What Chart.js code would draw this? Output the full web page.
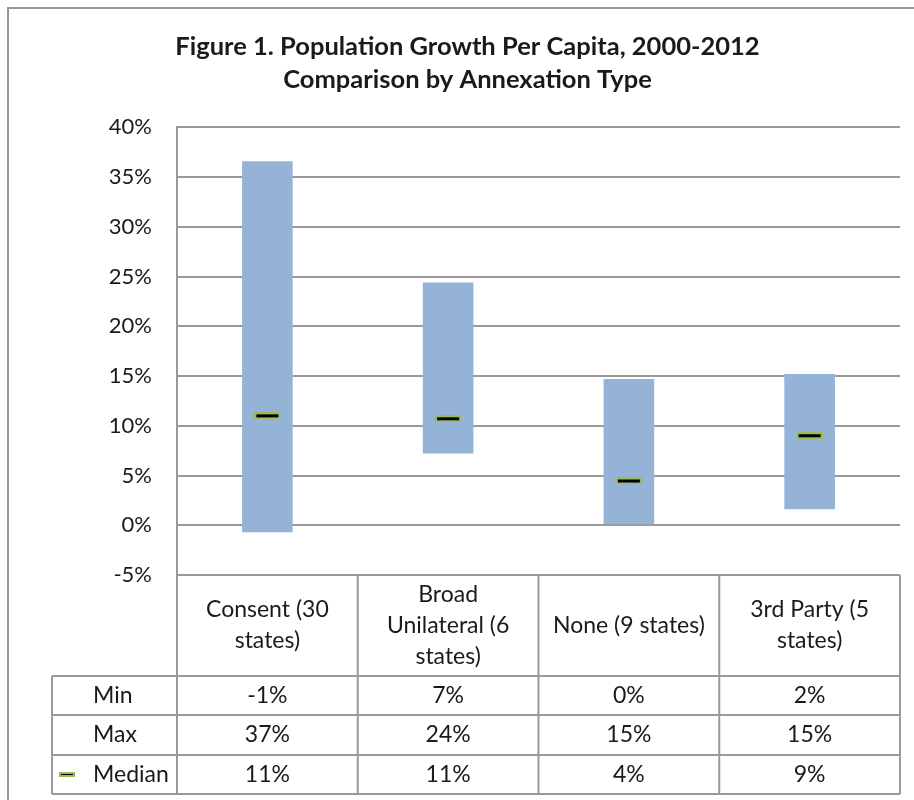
<!DOCTYPE html>
<html>
<head>
<meta charset="utf-8">
<script src="https://cdn.jsdelivr.net/npm/chart.js@4/dist/chart.umd.min.js"></script>
<style>
  html, body { margin: 0; padding: 0; background: #fff; }
</style>
</head>
<body>
<canvas id="growthChart" width="914" height="800"></canvas>
<script>
// chart data
const titleLines = ['Figure 1. Population Growth Per Capita, 2000-2012', 'Comparison by Annexation Type'];
const categories = [['Consent (30', 'states)'], ['Broad', 'Unilateral (6', 'states)'], ['None (9 states)'], ['3rd Party (5', 'states)']];
const minValues = [-0.7, 7.2, 0.0, 1.6];
const maxValues = [36.6, 24.4, 14.7, 15.2];
const medianValues = [11.0, 10.7, 4.45, 9.0];
const rowLabels = ['Min', 'Max', 'Median'];
const yMin = -5;
const yMax = 40;
const yStep = 5;

const LINE_GRAY = '#999999';
const TEXT = '#1a1a1a';
const FONT = 'Lato';

Chart.defaults.font.family = FONT;
Chart.defaults.color = TEXT;

/**
 * Black dash with a green rim, used as the median point style.
 */
function makeMedianMarker(w, h) {
    const c = document.createElement('canvas');
    c.width = w;
    c.height = h;
    const g = c.getContext('2d');
    g.fillStyle = '#9bbb59';
    g.fillRect(0, 0, w, h);
    g.fillStyle = '#000000';
    g.fillRect(2, 2, w - 4, h - 4);
    return c;
}

const medianMarker = makeMedianMarker(26, 7);
const legendMarker = makeMedianMarker(16, 5);

function fmtPct(v) {
    const r = Math.round(v);
    return (r === 0 ? 0 : r) + '%';
}

/**
 * Outer frame plus the data table under the plot (Excel style).
 */
const dataTablePlugin = {
    id: 'dataTable',
    beforeDraw(chart) {
        const ctx = chart.ctx;
        ctx.save();
        ctx.strokeStyle = LINE_GRAY;
        ctx.lineWidth = 2;
        ctx.strokeRect(8, 8, chart.width + 10, chart.height + 10);
        ctx.restore();
    },
    afterDraw(chart) {
        const { ctx, chartArea, scales: { x } } = chart;
        const half = (x.getPixelForTick(1) - x.getPixelForTick(0)) / 2;
        const edges = categories.map((c, i) => x.getPixelForTick(i) - half);
        edges.push(chartArea.right);

        const headerTop = chartArea.bottom;
        const headerBottom = headerTop + 101;
        const rowH = 39.3;
        const tableBottom = headerBottom + rowH * rowLabels.length;
        const labelLeft = 52;

        ctx.save();
        ctx.strokeStyle = LINE_GRAY;
        ctx.lineWidth = 2;
        ctx.beginPath();
        // header verticals
        edges.forEach(px => {
            ctx.moveTo(px, headerTop);
            ctx.lineTo(px, tableBottom);
        });
        ctx.moveTo(labelLeft, headerBottom);
        ctx.lineTo(labelLeft, tableBottom);
        // row lines
        for (let r = 0; r <= rowLabels.length; r++) {
            const y = Math.round(headerBottom + r * rowH);
            ctx.moveTo(labelLeft, y);
            ctx.lineTo(chartArea.right, y);
        }
        ctx.stroke();

        ctx.fillStyle = TEXT;
        ctx.font = '23px ' + FONT;
        ctx.textBaseline = 'middle';
        ctx.textAlign = 'center';

        // category headers, vertically centred
        const lh = 31;
        categories.forEach((lines, i) => {
            const cx = x.getPixelForTick(i);
            const mid = (headerTop + headerBottom) / 2;
            const y0 = mid - (lines.length - 1) * lh / 2;
            lines.forEach((t, k) => ctx.fillText(t, cx, y0 + k * lh));
        });

        // value rows
        const rows = [minValues, maxValues, medianValues];
        rows.forEach((vals, r) => {
            const cy = headerBottom + r * rowH + rowH / 2;
            vals.forEach((v, i) => ctx.fillText(fmtPct(v), x.getPixelForTick(i), cy));
            ctx.textAlign = 'left';
            ctx.fillText(rowLabels[r], 93, cy);
            ctx.textAlign = 'center';
            if (rowLabels[r] === 'Median') {
                ctx.drawImage(legendMarker, 59, Math.round(cy - legendMarker.height / 2));
            }
        });
        ctx.restore();
    }
};

const ctx = document.getElementById('growthChart').getContext('2d');
new Chart(ctx, {
    data: {
        labels: categories,
        datasets: [{
            type: 'line',
            label: 'Median',
            data: medianValues,
            showLine: false,
            pointStyle: medianMarker,
            pointRadius: 10,
            order: 0
        }, {
            type: 'bar',
            label: 'Range',
            data: minValues.map((v, i) => [v, maxValues[i]]),
            backgroundColor: '#95b3d7',
            borderWidth: 0,
            categoryPercentage: 1,
            barPercentage: 0.28,
            order: 1
        }]
    },
    options: {
        responsive: false,
        animation: false,
        layout: { padding: { left: 35, right: 14, top: 0, bottom: 225 } },
        scales: {
            x: { display: false, offset: true },
            y: {
                min: yMin,
                max: yMax,
                afterFit: s => { s.width = 142; },
                ticks: {
                    stepSize: yStep,
                    padding: 25,
                    color: TEXT,
                    font: { size: 22, family: FONT },
                    callback: v => v + '%'
                },
                grid: { color: LINE_GRAY, lineWidth: 2, drawTicks: false },
                border: { display: true, color: LINE_GRAY, width: 2 }
            }
        },
        plugins: {
            legend: { display: false },
            tooltip: { enabled: false },
            title: {
                display: true,
                text: titleLines,
                color: TEXT,
                font: { size: 25.5, weight: 'bold', family: FONT, lineHeight: 1.3 },
                padding: { top: 30, bottom: 31 }
            }
        }
    },
    plugins: [dataTablePlugin]
});
</script>
</body>
</html>
